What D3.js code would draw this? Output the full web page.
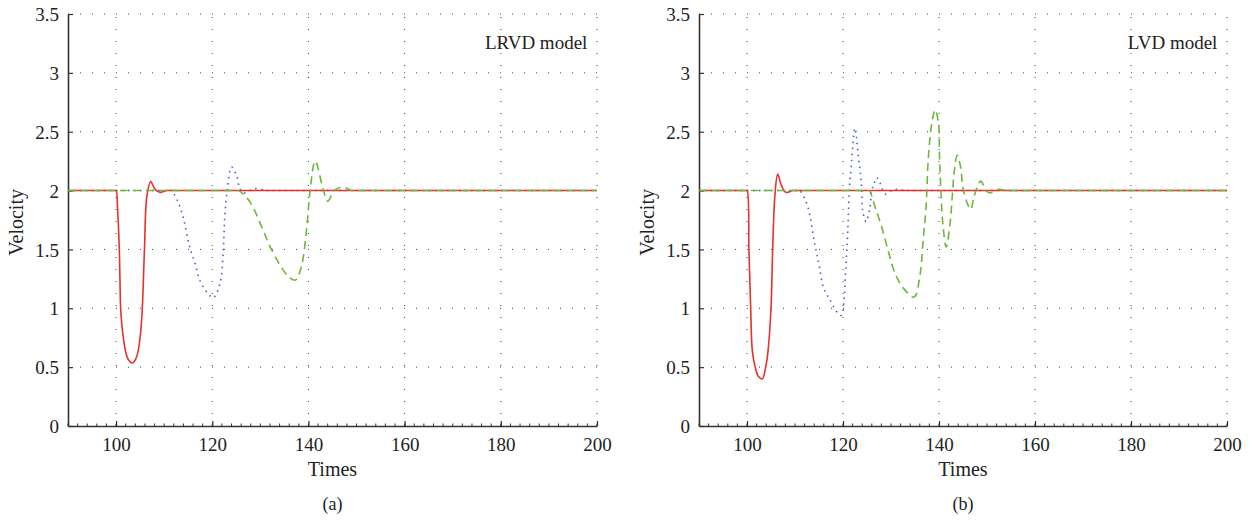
<!DOCTYPE html>
<html><head><meta charset="utf-8">
<script src="https://cdn.jsdelivr.net/npm/d3@7"></script>
<style>body{margin:0;background:#fff}svg{display:block}</style>
</head><body><svg id="c" width="1255" height="522"></svg>
<script>
// ---- data ----
const xTicks = [100,120,140,160,180,200];
const yTicks = [0,0.5,1,1.5,2,2.5,3,3.5];
const yTickLabels = ["0","0.5","1","1.5","2","2.5","3","3.5"];
const panelTitles = ["LRVD model","LVD model"];
const panelLabels = ["(a)","(b)"];

// Panel (a) LRVD
const aRedT  = [90,99.7,100,100.3,100.67,100.95,101.2,101.5,102.0,102.6,103.4,104.1,104.6,105.1,105.45,105.9,106.4,107.2,108.1,109.2,110.5,111,200];
const aRedV  = [2,2,2,1.85,1.5,1.0,0.86,0.75,0.63,0.56,0.535,0.57,0.64,0.79,1.0,1.5,1.95,2.076,2.01,1.985,2,2,2];
const aBlueT = [90,111.2,111.5,112.7,114.0,114.9,115.6,116.5,117.4,119.2,120.2,121.6,122.3,122.6,123.1,124.0,125.1,125.6,126.4,128.9,131,131.5,200];
const aBlueV = [2,2,2,1.92,1.765,1.59,1.48,1.37,1.24,1.12,1.09,1.21,1.50,1.78,2.0,2.20,2.12,2.03,1.98,2.016,2,2,2];
const aGreenT= [90,125.2,125.5,127.8,130.3,132.3,135.8,137.3,138.5,139.6,140.3,141.4,143.1,144.0,145.5,147.2,149,149.5,200];
const aGreenV= [2,2,2,1.906,1.69,1.50,1.27,1.24,1.35,1.665,1.98,2.25,2.005,1.91,2.005,2.028,2,2,2];

// Panel (b) LVD
const bRedT  = [90,99.7,100,100.4,100.77,101.1,101.7,102.4,103.2,103.9,104.4,105.0,105.35,105.8,106.4,107.2,108.1,109.5,110,200];
const bRedV  = [2,2,2,1.5,1.0,0.644,0.5,0.42,0.40,0.5,0.644,1.0,1.5,1.95,2.14,2.04,1.985,2,2,2];
const bBlueT = [90,110.7,111.0,112.3,113.1,113.96,114.5,115.1,115.9,117.3,119.0,119.7,120.2,120.6,120.98,121.3,121.7,122.5,123.2,123.7,123.9,124.1,124.8,125.6,125.98,126.5,127.0,127.7,128.2,128.9,130.1,131.3,133,133.5,200];
const bBlueV = [2,2,2,1.905,1.79,1.58,1.47,1.35,1.18,1.07,0.955,0.94,1.07,1.35,1.64,1.99,2.20,2.53,2.29,2.12,2.0,1.83,1.735,1.85,2.0,2.06,2.11,2.066,2.01,1.97,2.0,2.01,2,2,2];
const bGreenT= [90,125.2,125.5,126.7,128.06,129.4,130.8,132.6,134.8,136.0,136.7,137.3,137.8,138.5,139.2,139.9,140.1,140.4,140.8,141.5,142.3,142.85,143.2,143.8,144.5,145.1,146.6,147.3,148.7,149.8,150.6,152.4,154,154.5,200];
const bGreenV= [2,2,2,1.86,1.69,1.49,1.30,1.17,1.095,1.27,1.58,1.86,2.29,2.57,2.685,2.57,2.29,2.0,1.72,1.52,1.72,2.0,2.17,2.30,2.20,2.0,1.84,1.95,2.08,2.0,1.98,2.01,2,2,2];

const panels = [
  {x0:68, x1:597, red:[aRedT,aRedV], blue:[aBlueT,aBlueV], green:[aGreenT,aGreenV]},
  {x0:699, x1:1227, red:[bRedT,bRedV], blue:[bBlueT,bBlueV], green:[bGreenT,bGreenV]}
];
const Y0 = 426, Y1 = 14;
const FONT = '"Liberation Serif", "Times New Roman", serif';
const svg = d3.select("#c");
const minorX = d3.range(90, 201, 2);

panels.forEach((p, i) => {
  const x = d3.scaleLinear().domain([90,200]).range([p.x0,p.x1]);
  const y = d3.scaleLinear().domain([0,3.5]).range([Y0,Y1]);
  const g = svg.append("g");

  // grid
  g.selectAll(".gx").data(xTicks).join("line")
    .attr("x1", d=>x(d)).attr("x2", d=>x(d)).attr("y1", Y0).attr("y2", Y1)
    .attr("stroke","#444").attr("stroke-width",1).attr("stroke-dasharray","1,11");
  g.selectAll(".gy").data(yTicks.filter(d=>d>0)).join("line")
    .attr("x1", p.x0).attr("x2", p.x1).attr("y1", d=>y(d)).attr("y2", d=>y(d))
    .attr("stroke","#444").attr("stroke-width",1).attr("stroke-dasharray","1,11");

  // minor x ticks
  g.selectAll(".mx").data(minorX).join("line")
    .attr("x1", d=>x(d)).attr("x2", d=>x(d)).attr("y1", Y0).attr("y2", Y0-2.5)
    .attr("stroke","#333").attr("stroke-width",1);

  // axes
  const xAxis = d3.axisBottom(x).tickValues(xTicks).tickSizeInner(-5).tickSizeOuter(0).tickPadding(9);
  const gx = g.append("g").attr("transform",`translate(0,${Y0})`).call(xAxis);
  const yAxis = d3.axisLeft(y).tickValues(yTicks).tickFormat((d,k)=>yTickLabels[k]).tickSizeInner(-5).tickSizeOuter(0).tickPadding(9);
  const gy = g.append("g").attr("transform",`translate(${p.x0},0)`).call(yAxis);
  [gx,gy].forEach(a=>{
    a.attr("font-family", null).attr("font-size", null);
    a.select(".domain").attr("stroke","#333").attr("stroke-width",1.6);
    a.selectAll(".tick line").attr("stroke","#333").attr("stroke-width",1.2);
    a.selectAll("text").style("font-size","19px").style("font-family",FONT).attr("fill","#222");
  });
  gx.selectAll("text").attr("dy","0.85em");
  gy.selectAll("text").attr("dy","0.35em");

  // lines
  const line = d3.line().x(d=>x(d[0])).y(d=>y(d[1])).curve(d3.curveCatmullRom.alpha(0.5));
  const zipS = s => s[0].map((t,k)=>[t, s[1][k]]);
  g.append("path").attr("d", line(zipS(p.blue))).attr("fill","none")
    .attr("stroke","#4a5cc8").attr("stroke-width",1.6).attr("stroke-dasharray","1.5,4.5");
  g.append("path").attr("d", line(zipS(p.red))).attr("fill","none")
    .attr("stroke","#e8312c").attr("stroke-width",1.6);
  g.append("path").attr("d", line(zipS(p.green))).attr("fill","none")
    .attr("stroke","#6cb83a").attr("stroke-width",1.6).attr("stroke-dasharray","8,5");

  // texts
  const txt = (sel, size) => sel.style("font-family",FONT).style("font-size",size+"px").attr("fill","#222");
  const cx = (p.x0+p.x1)/2;
  txt(g.append("text").attr("x", cx).attr("y", 476).attr("text-anchor","middle"),20).text("Times");
  txt(g.append("text").attr("transform",`translate(${p.x0-45},${y(1.73)}) rotate(-90)`).attr("text-anchor","middle"),20).text("Velocity");
  txt(g.append("text").attr("x", cx).attr("y", 510).attr("text-anchor","middle"),18).text(panelLabels[i]);
  txt(g.append("text").attr("x", x(198)).attr("y", 49).attr("text-anchor","end"),19).text(panelTitles[i]);
});
</script></body></html>
